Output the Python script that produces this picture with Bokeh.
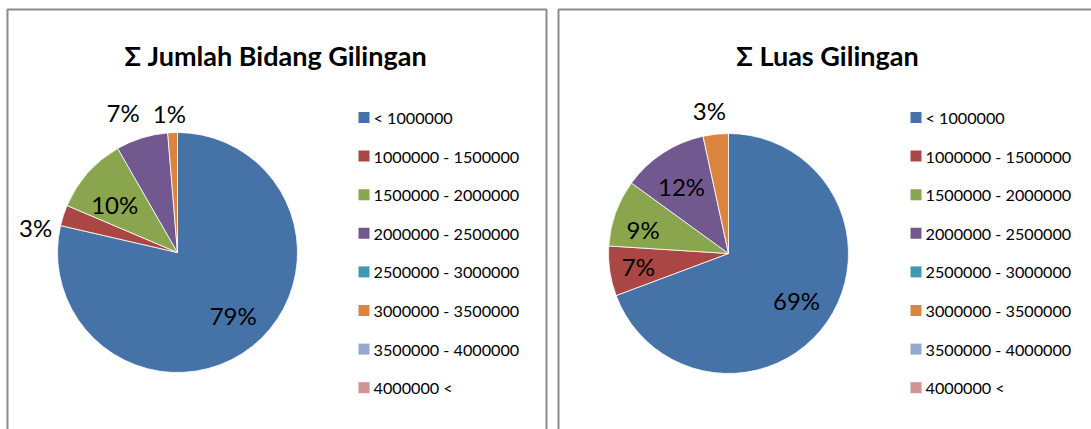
import math
from bokeh.plotting import figure
from bokeh.models import Range1d, ColumnDataSource
from bokeh.core.properties import value
from bokeh.embed import file_html
from bokeh.resources import INLINE

# ---------------- data ----------------
categories = ["< 1000000", "1000000 - 1500000", "1500000 - 2000000",
              "2000000 - 2500000", "2500000 - 3000000", "3000000 - 3500000",
              "3500000 - 4000000", "4000000 <"]
jumlah_bidang_pct = [78.6, 2.8, 10.3, 7.0, 0.0, 1.3, 0.0, 0.0]
luas_pct = [69.3, 6.7, 9.0, 11.6, 0.0, 3.4, 0.0, 0.0]
titles = ["\u03a3 Jumlah Bidang Gilingan", "\u03a3 Luas Gilingan"]

# ---------------- style / layout ----------------
colors = ["#4572A7", "#AA4643", "#89A54E", "#71588F",
          "#4198AF", "#DB843D", "#93A9CF", "#D19392"]
FONT = "Lato"
W, H = 1091, 429
R = 120
panels = [
    dict(values=jumlah_bidang_pct, title=titles[0], cx=177, cy=252,
         title_x=275, legend_x=363.5,
         lab_r=[0.70, 1.20, 0.66, 1.25, 1.0, 1.16, 1.0, 1.0],
         lab_da=[-3, -8, -4, -4, 0, -1, 0, 0],
         border=(7, 546)),
    dict(values=luas_pct, title=titles[1], cx=728, cy=253,
         title_x=827, legend_x=915.5,
         lab_r=[0.69, 0.76, 0.74, 0.68, 1.0, 1.20, 1.0, 1.0],
         lab_da=[0, 0, -4, -2, 0, -1.5, 0, 0],
         border=(558, 1130)),
]
legend_top = 117
legend_step = 38.6
title_y = 55

p = figure(width=W, height=H, x_range=Range1d(0, W), y_range=Range1d(-H, 0),
           output_backend="svg", toolbar_location=None, x_axis_type=None, y_axis_type=None,
           min_border=0)
p.grid.visible = False
p.outline_line_color = None
p.background_fill_color = "white"

for pan in panels:
    l, r = pan["border"]
    p.quad(left=[l], right=[r], top=[-9], bottom=[-470], fill_color=None,
           line_color="#8a8a8a", line_width=2)

    vals = pan["values"]
    total = sum(vals)
    cum = 0.0
    xs, ys, starts, ends, cols = [], [], [], [], []
    lx, ly, ltxt = [], [], []
    for i, v in enumerate(vals):
        if v <= 0:
            continue
        a0 = cum / total * 2 * math.pi
        cum += v
        a1 = cum / total * 2 * math.pi
        xs.append(pan["cx"]); ys.append(-pan["cy"])
        starts.append(math.pi / 2 - a0); ends.append(math.pi / 2 - a1)
        cols.append(colors[i])
        mid = (a0 + a1) / 2 + math.radians(pan["lab_da"][i])
        rr = R * pan["lab_r"][i]
        lx.append(pan["cx"] + rr * math.sin(mid))
        ly.append(-pan["cy"] + rr * math.cos(mid))
        ltxt.append(f"{round(v / total * 100)}%")
    src = ColumnDataSource(dict(x=xs, y=ys, s=starts, e=ends, c=cols))
    p.wedge(x="x", y="y", radius=R, start_angle="s", end_angle="e", direction="clock",
            fill_color="c", line_color="white", line_width=0.8, source=src)
    p.text(x=lx, y=ly, text=ltxt, text_font=value(FONT), text_font_size="24px",
           text_align="center", text_baseline="middle", text_color="#000000")

    # title
    p.text(x=[pan["title_x"]], y=[-title_y], text=[pan["title"]], text_font=value(FONT),
           text_font_size="27px", text_font_style="bold", text_align="center",
           text_baseline="middle", text_color="#000000")

    # legend
    ly2 = [-(legend_top + k * legend_step) for k in range(len(categories))]
    p.scatter(x=[pan["legend_x"]] * len(categories), y=ly2, marker="square", size=11,
              fill_color=colors, line_color=None)
    p.text(x=[pan["legend_x"] + 9.5] * len(categories), y=ly2, text=categories,
           text_font=value(FONT), text_font_size="16.2px", text_align="left",
           text_baseline="middle", text_color="#000000")

open("out.html", "w").write(file_html(p, INLINE))
